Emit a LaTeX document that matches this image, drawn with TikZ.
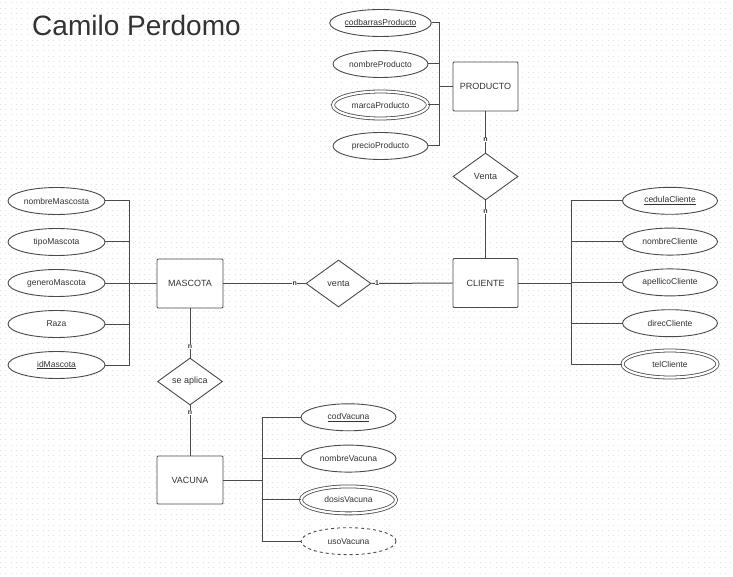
\documentclass[tikz,border=0pt]{standalone}
\usepackage{fontspec}
\setmainfont{Liberation Sans}
\usetikzlibrary{shapes.geometric}
\usetikzlibrary{positioning}
\definecolor{lgray}{HTML}{4A4A4A}
\definecolor{tgray}{HTML}{333333}
\tikzset{ent/.style = {draw=lgray, line width=0.9, fill=white, rounded corners=1pt, minimum width=65, minimum height=49,
                       inner sep=0, font=\fontsize{9}{10}\selectfont, text=tgray}}
\tikzset{attr/.style = {draw=lgray, line width=0.9, fill=white, ellipse, minimum width=95, minimum height=27,
                        inner sep=0, font=\fontsize{8.5}{10}\selectfont, text=tgray}}
\tikzset{rel/.style = {draw=lgray, line width=0.9, fill=white, diamond, aspect=1.38, minimum width=65, minimum height=47,
                       inner sep=0, font=\fontsize{9}{10}\selectfont, text=tgray}}
\tikzset{card/.style = {fill=white, inner sep=0.4, font=\fontsize{7}{7}\selectfont\bfseries, text=tgray}}
\tikzset{multi/.style = {double=white, line width=0.8, double distance=2.2}}
\tikzset{deriv/.style = {dashed}}
\tikzset{plain/.style = {}}
\tikzset{link/.style = {draw=lgray, line width=1}}

\begin{document}
\begin{tikzpicture}[x=1pt, y=-1pt]
      \useasboundingbox (0, 0) rectangle (733, 577);
      \fill [white] (0, 0) rectangle (733, 577);
      % dotted background
      \foreach \y in {2.7, 8.03, ..., 577}
        \draw [black!11, line width=0.8, dash pattern=on 0.8pt off 4.53pt] (0, \y) -- (733, \y);

      \node [font=\fontsize{28}{30}\selectfont, text=tgray] (title) at (136.5, 25) {Camilo Perdomo};

      % entities and relations
      \node [ent] (prod) at (485.5, 86.5) {PRODUCTO};
      \node [rel] (venta1) at (485.5, 176.5) {Venta};
      \node [ent] (cli) at (485.5, 283) {CLIENTE};
      \node [ent, minimum width=66] (masc) at (190, 283.5) {MASCOTA};
      \node [rel] (venta2) at (338.5, 283.5) {venta};
      \node [rel] (aplica) at (190, 381.5) {se aplica};
      \node [ent, minimum width=66, minimum height=48] (vac) at (190, 480) {VACUNA};

      \draw [link] (prod) -- node [card, pos=0.69] {n} (venta1);
      \draw [link] (venta1) -- node [card, pos=0.19] {n} (cli);
      \draw [link] (masc) -- node [card, pos=0.87] {n} (venta2);
      \draw [link] (venta2) -- node [card, pos=0.07] {1} (cli);
      \draw [link] (masc) -- node [card, pos=0.78] {n} (aplica);
      \draw [link] (aplica) -- node [card, pos=0.14] {n} (vac);

      % attributes
      \draw [link] (masc.west) -- ++(-27, 0) coordinate (mb);
      \foreach \id/\txt/\sty [count=\i] in {nomM/nombreMascosta/plain, tipoM/tipoMascota/plain,
                                            genM/generoMascota/plain, raza/Raza/plain,
                                            idM/\underline{idMascota}/plain} {
        \node [attr, minimum width=97, \sty] (\id) at (56.5, 160 + 41*\i) {\txt};
        \draw [link] (\id.east) -| (mb);
      }

      \draw [link] (cli.east) -- ++(53, 0) coordinate (cb);
      \foreach \id/\txt/\sty [count=\i] in {cedC/\underline{cedulaCliente}/plain, nomC/nombreCliente/plain,
                                            apeC/apellicoCliente/plain, dirC/direcCliente/plain,
                                            telC/telCliente/multi} {
        \node [attr, \sty] (\id) at (670, 160 + 40.8*\i) {\txt};
        \draw [link] (\id.west) -| (cb);
      }

      \draw [link] (prod.west) -- ++(-13, 0) coordinate (pb);
      \foreach \id/\txt/\sty [count=\i] in {codP/\underline{codbarrasProducto}/plain, nomP/nombreProducto/plain,
                                            marP/marcaProducto/multi, preP/precioProducto/plain} {
        \node [attr, \sty] (\id) at (380.5, -18 + 41*\i) {\txt};
        \draw [link] (\id.east) -| (pb);
      }

      \draw [link] (vac.east) -- ++(39, 0) coordinate (vb);
      \foreach \id/\txt/\sty [count=\i] in {codV/\underline{codVacuna}/plain, nomV/nombreVacuna/plain,
                                            dosV/dosisVacuna/multi, usoV/usoVacuna/deriv} {
        \node [attr, \sty] (\id) at (348.5, 376 + 41.3*\i) {\txt};
        \draw [link] (\id.west) -| (vb);
      }
    \end{tikzpicture}
\end{document}
